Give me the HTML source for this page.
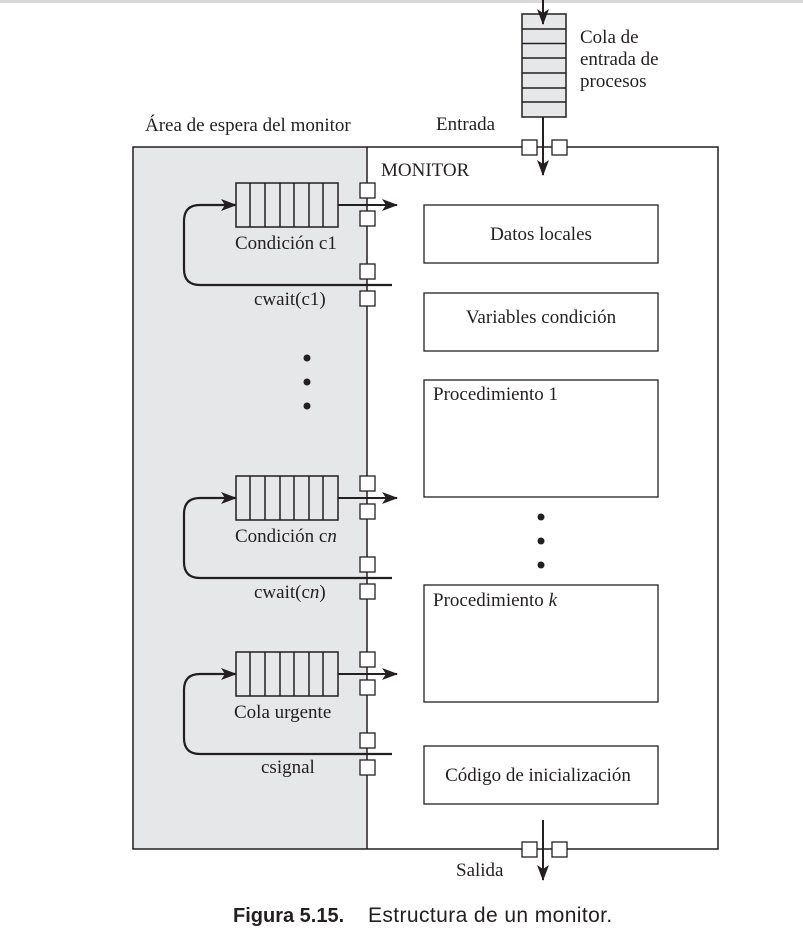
<!DOCTYPE html>
<html><head><meta charset="utf-8"><style>
body{margin:0;background:#fff}
svg{display:block}
text{font-family:"Liberation Serif",serif;font-size:19px;fill:#231f20}
</style></head><body>
<svg width="803" height="934" viewBox="0 0 803 934" xmlns="http://www.w3.org/2000/svg">
<defs><marker id="a" markerWidth="16" markerHeight="12" refX="15" refY="6" orient="auto" markerUnits="userSpaceOnUse"><path d="M0,0 L16,6 L0,12 L4,6 Z" fill="#231f20"/></marker></defs>
<rect x="0" y="0" width="803" height="3" fill="#d8d8d8"/>
<rect x="133" y="147" width="234" height="702" fill="#e6e7e8"/>
<rect x="133" y="147" width="585" height="702" fill="none" stroke="#231f20" stroke-width="1.5"/>
<line x1="367" y1="147" x2="367" y2="849" stroke="#231f20" stroke-width="1.5"/>
<rect x="522" y="14" width="44" height="103" fill="#e6e7e8" stroke="#231f20" stroke-width="1.5"/>
<g stroke="#231f20" stroke-width="1.5">
<line x1="522" y1="29" x2="566" y2="29"/><line x1="522" y1="43.5" x2="566" y2="43.5"/><line x1="522" y1="58" x2="566" y2="58"/><line x1="522" y1="73" x2="566" y2="73"/><line x1="522" y1="88" x2="566" y2="88"/><line x1="522" y1="102" x2="566" y2="102"/>
</g>
<line x1="543" y1="0" x2="543" y2="24" stroke="#231f20" stroke-width="2" marker-end="url(#a)"/>
<line x1="543" y1="117" x2="543" y2="175" stroke="#231f20" stroke-width="2" marker-end="url(#a)"/>
<rect x="522" y="140" width="15" height="15" fill="#fff" stroke="#231f20" stroke-width="1.3"/>
<rect x="552" y="140" width="15" height="15" fill="#fff" stroke="#231f20" stroke-width="1.3"/>
<text x="580" y="43">Cola de</text><text x="580" y="65">entrada de</text><text x="580" y="87">procesos</text>
<text x="436" y="130">Entrada</text>
<text x="145" y="131">Área de espera del monitor</text>
<text x="381" y="176">MONITOR</text>
<line x1="543" y1="820" x2="543" y2="880" stroke="#231f20" stroke-width="2" marker-end="url(#a)"/>
<rect x="522" y="842" width="15" height="15" fill="#fff" stroke="#231f20" stroke-width="1.3"/>
<rect x="552" y="842" width="15" height="15" fill="#fff" stroke="#231f20" stroke-width="1.3"/>
<text x="456" y="876">Salida</text>
<g id="q1">
<rect x="236" y="183" width="102" height="44" fill="#e6e7e8" stroke="#231f20" stroke-width="1.5"/>
<g stroke="#231f20" stroke-width="1.5"><line x1="250" y1="183" x2="250" y2="227"/><line x1="265" y1="183" x2="265" y2="227"/><line x1="280" y1="183" x2="280" y2="227"/><line x1="294" y1="183" x2="294" y2="227"/><line x1="309" y1="183" x2="309" y2="227"/><line x1="323" y1="183" x2="323" y2="227"/></g>
<line x1="338" y1="205" x2="397" y2="205" stroke="#231f20" stroke-width="2" marker-end="url(#a)"/>
<path d="M392,285 L200,285 Q184,285 184,269 L184,221 Q184,205 200,205 L236,205" fill="none" stroke="#231f20" stroke-width="2.2" marker-end="url(#a)"/>
<rect x="360" y="183" width="15" height="15" fill="#fff" stroke="#231f20" stroke-width="1.3"/>
<rect x="360" y="211" width="15" height="15" fill="#fff" stroke="#231f20" stroke-width="1.3"/>
<rect x="360" y="264" width="15" height="15" fill="#fff" stroke="#231f20" stroke-width="1.3"/>
<rect x="360" y="291" width="15" height="15" fill="#fff" stroke="#231f20" stroke-width="1.3"/>
</g>
<use href="#q1" y="293"/>
<use href="#q1" y="469"/>
<text x="235" y="249">Condición c1</text>
<text x="254" y="305">cwait(c1)</text>
<text x="235" y="542">Condición c<tspan font-style="italic">n</tspan></text>
<text x="254" y="598">cwait(c<tspan font-style="italic">n</tspan>)</text>
<text x="234" y="718">Cola urgente</text>
<text x="261" y="773">csignal</text>
<g fill="#231f20"><circle cx="307" cy="358" r="3.5"/><circle cx="307" cy="382" r="3.5"/><circle cx="307" cy="406" r="3.5"/>
<circle cx="541" cy="517" r="3.5"/><circle cx="541" cy="541" r="3.5"/><circle cx="541" cy="565" r="3.5"/></g>
<g fill="#fff" stroke="#231f20" stroke-width="1.3">
<rect x="424" y="205" width="234" height="58"/><rect x="424" y="293" width="234" height="58"/>
<rect x="424" y="380" width="234" height="117"/><rect x="424" y="585" width="234" height="117"/>
<rect x="424" y="746" width="234" height="58"/></g>
<text x="541" y="240" text-anchor="middle">Datos locales</text>
<text x="541" y="323" text-anchor="middle">Variables condición</text>
<text x="433" y="400">Procedimiento 1</text>
<text x="433" y="606">Procedimiento <tspan font-style="italic">k</tspan></text>
<text x="538" y="781" text-anchor="middle">Código de inicialización</text>
<text x="233" y="922" style="font-family:'Liberation Sans',sans-serif;font-size:20px;font-weight:bold">Figura 5.15.</text>
<text x="368" y="922" style="font-family:'Liberation Sans',sans-serif;font-size:21px;letter-spacing:0.4px">Estructura de un monitor.</text>
</svg>
</body></html>
